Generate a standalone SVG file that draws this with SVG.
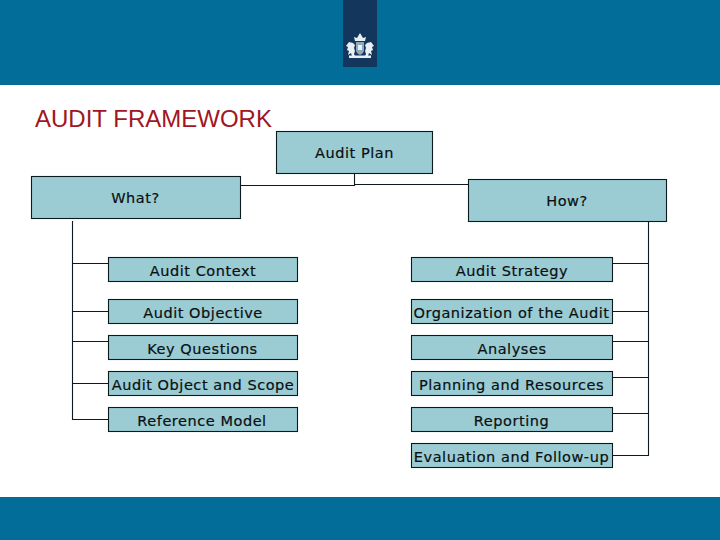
<svg xmlns="http://www.w3.org/2000/svg" width="720" height="540" viewBox="0 0 720 540">
<style>
.bar{fill:#036d99}
.box{fill:#9bccd4;stroke:#0c1a1e;stroke-width:1.1}
.lbl{font-family:"DejaVu Sans",Verdana,sans-serif;font-size:14.500px;letter-spacing:.55px;fill:#0a0f10;stroke:#0a0f10;stroke-width:.2;text-anchor:middle}
.conn{fill:none;stroke:#0c1a1e;stroke-width:1.1}
.title{font-family:"Liberation Sans",Arial,sans-serif;font-size:24px;fill:#a01622}
</style>
<rect width="720" height="540" fill="#fff"/>
<rect class="bar" width="720" height="85"/>
<rect class="bar" y="497" width="720" height="43"/>
<rect x="343" y="0" width="34" height="67" fill="#12365c"/>
<g id="crest">
<path fill="#e8eef2" d="M355 41l-1 -4 3 1 3 -5 3 5 3 -1 -1 4z"/>
<path fill="#e8eef2" d="M346 46l3 -4 4 1 2 2 -1 3 1 3 -1 3 1 2h-3l-1 -3 -3 2 1 -4 -2 -1 1 -3z"/>
<path fill="#e8eef2" d="M374 46l-3 -4 -4 1 -2 2 1 3 -1 3 1 3 -1 2h3l1 -3 3 2 -1 -4 2 -1 -1 -3z"/>
<path fill="#8fa9bb" d="M356 42h8v8q0 3 -4 5q-4 -2 -4 -5z"/>
<path fill="#e8eef2" d="M358 45h4v5h-4z"/>
<rect fill="#e8eef2" x="349" y="55.500" width="22" height="2.500"/>
</g>
<text class="title" x="35" y="126.500">AUDIT FRAMEWORK</text>
<g id="connectors">
<path class="conn" d="M354.500 173.500V185.500H240.500"/>
<path class="conn" d="M354.500 184.500H468.500"/>
<path class="conn" d="M72.500 221V419.500H108.500"/>
<path class="conn" d="M72.500 263.500H108.500M72.500 311.500H108.500M72.500 341.500H108.500M72.500 383.500H108.500"/>
<path class="conn" d="M648.500 221.500V455.500H612.500"/>
<path class="conn" d="M612.500 263.500H648.500M612.500 311.500H648.500M612.500 341.500H648.500M612.500 377.500H648.500M612.500 413.500H648.500"/>
</g>
<g id="audit-plan"><rect class="box" x="276.500" y="131.500" width="156" height="42"/><text class="lbl" x="354.500" y="158">Audit Plan</text></g>
<g id="what"><rect class="box" x="31.500" y="176.500" width="209" height="42"/><text class="lbl" x="135.500" y="203">What?</text></g>
<g id="how"><rect class="box" x="468.500" y="179.500" width="198" height="42"/><text class="lbl" x="567" y="206">How?</text></g>
<g id="audit-context"><rect class="box" x="108.500" y="257.500" width="189" height="24"/><text class="lbl" x="203" y="276">Audit Context</text></g>
<g id="audit-objective"><rect class="box" x="108.500" y="299.500" width="189" height="24"/><text class="lbl" x="203" y="318">Audit Objective</text></g>
<g id="key-questions"><rect class="box" x="108.500" y="335.500" width="189" height="24"/><text class="lbl" x="202.500" y="354">Key Questions</text></g>
<g id="audit-object"><rect class="box" x="108.500" y="371.500" width="189" height="24"/><text class="lbl" x="203" y="390">Audit Object and Scope</text></g>
<g id="reference-model"><rect class="box" x="108.500" y="407.500" width="189" height="24"/><text class="lbl" x="202" y="426">Reference Model</text></g>
<g id="audit-strategy"><rect class="box" x="411.500" y="257.500" width="201" height="24"/><text class="lbl" x="512" y="276">Audit Strategy</text></g>
<g id="organization"><rect class="box" x="411.500" y="299.500" width="201" height="24"/><text class="lbl" x="511.500" y="318">Organization of the Audit</text></g>
<g id="analyses"><rect class="box" x="411.500" y="335.500" width="201" height="24"/><text class="lbl" x="512" y="354">Analyses</text></g>
<g id="planning"><rect class="box" x="411.500" y="371.500" width="201" height="24"/><text class="lbl" x="511.500" y="390">Planning and Resources</text></g>
<g id="reporting"><rect class="box" x="411.500" y="407.500" width="201" height="24"/><text class="lbl" x="511.500" y="426">Reporting</text></g>
<g id="evaluation"><rect class="box" x="411.500" y="443.500" width="201" height="24"/><text class="lbl" x="511.500" y="462">Evaluation and Follow-up</text></g>
</svg>
